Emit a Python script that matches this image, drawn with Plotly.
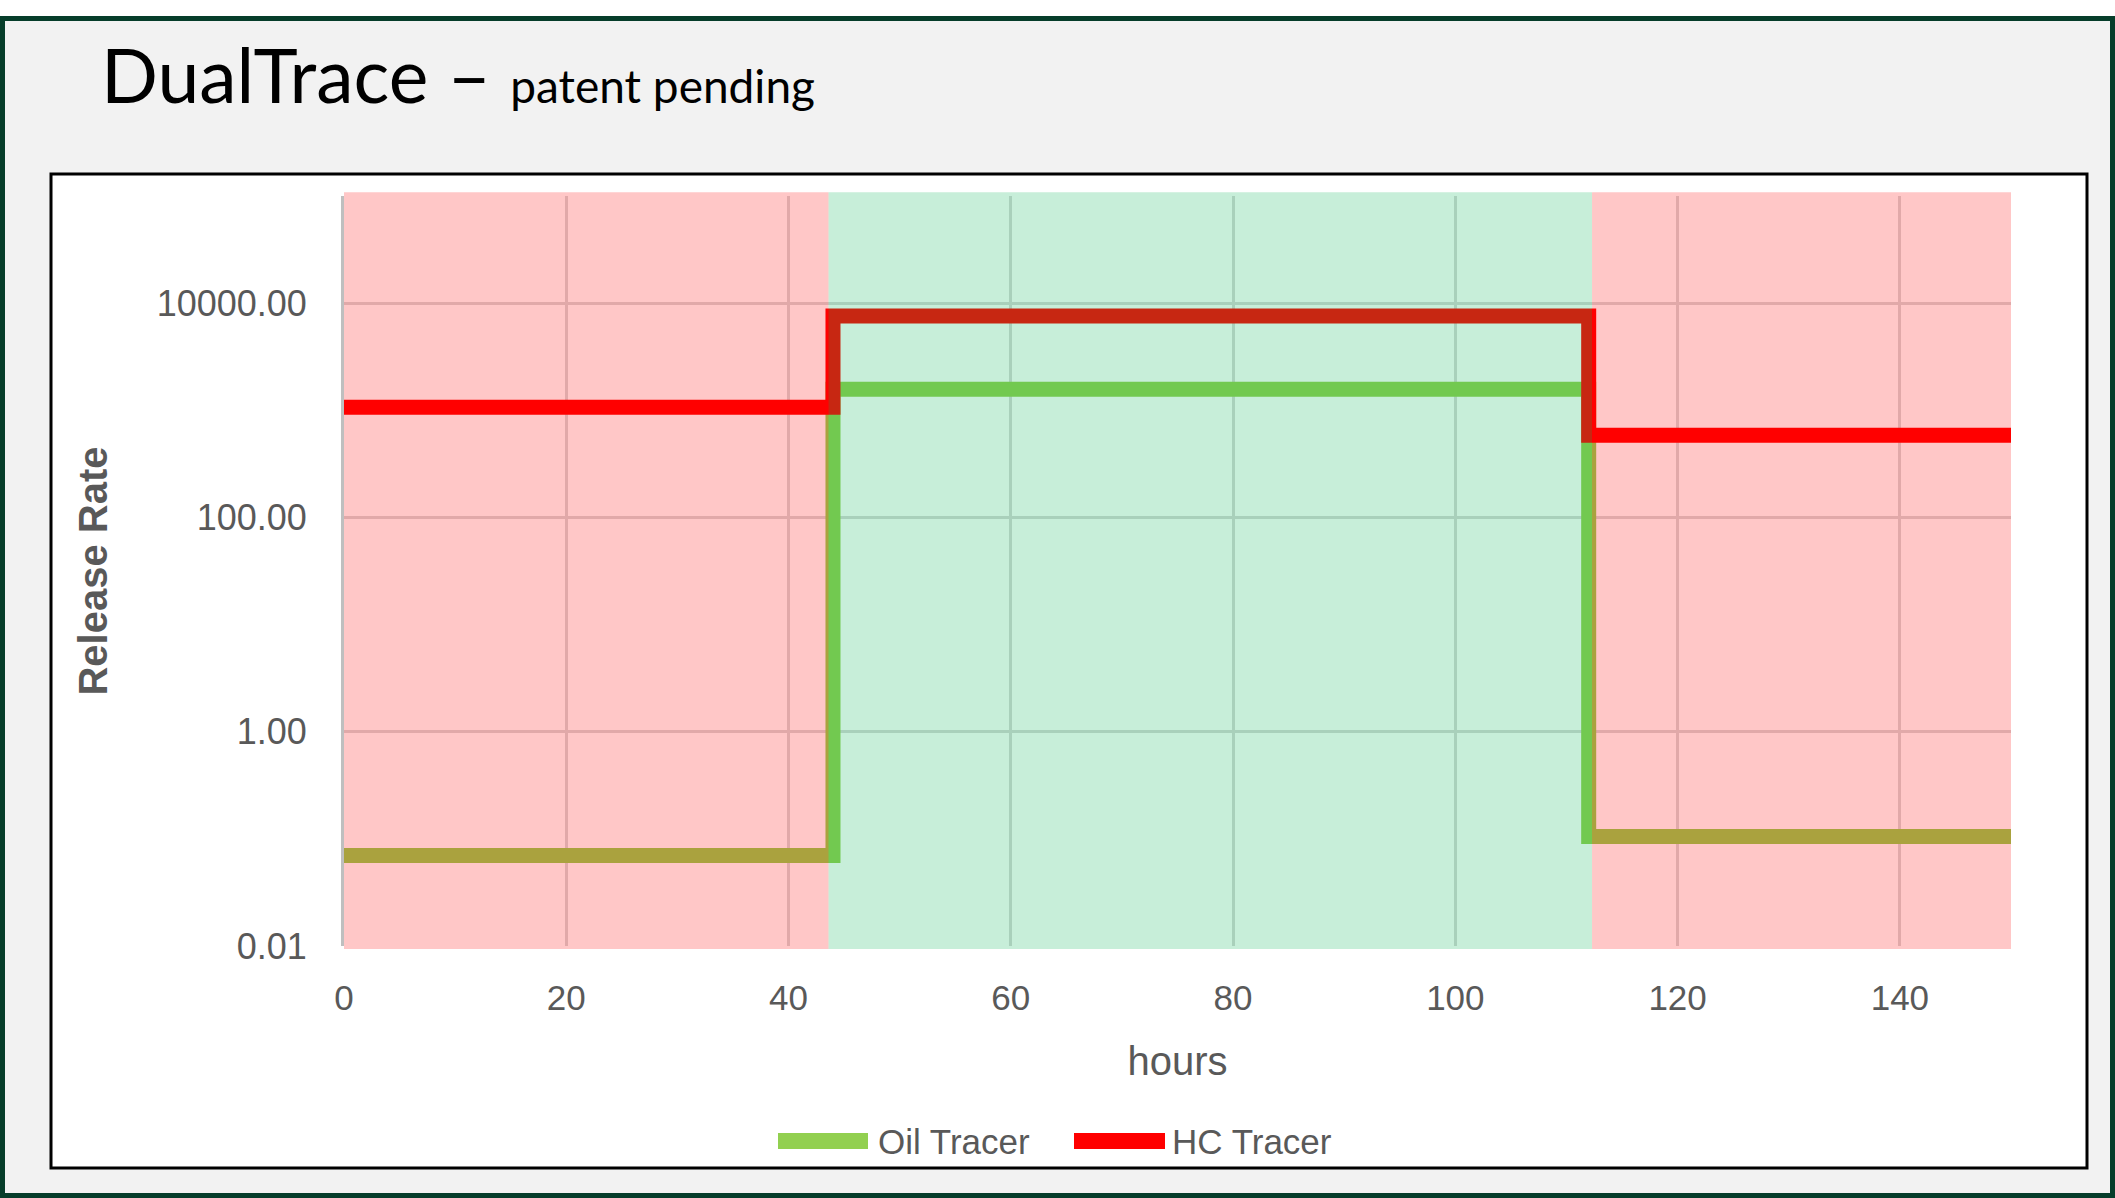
import plotly.graph_objects as go

# -----------------------
# Data
# -----------------------
hours_oil = [0, 44, 112, 150]
oil_rate = [0.07, 1570, 0.105, 0.105]

hours_hc = [0, 44, 112, 150]
hc_rate = [1070, 7600, 584, 584]

# shaded phases: start hour, end hour, colour
phase_start = [0, 43.6, 112.3]
phase_end = [43.6, 112.3, 151.5]
phase_color = ["rgba(255,0,0,0.22)", "rgba(0,176,80,0.22)", "rgba(255,0,0,0.22)"]

x_ticks = [0, 20, 40, 60, 80, 100, 120, 140]
y_ticks = [0.01, 1, 100, 10000]

OIL_COLOR = "#92D050"
HC_COLOR = "#FF0000"

# -----------------------
# Page geometry (pixels)
# -----------------------
W, H = 2115, 1198
PL, PR, PT, PB = 344, 2011, 196, 946


def px(x):
    return (x - PL) / (PR - PL)


def py(y):
    return (PB - y) / (PB - PT)


GREY = "#595959"
FONT = "Liberation Sans, Arial, sans-serif"

fig = go.Figure()

fig.add_trace(go.Scatter(
    x=hours_oil, y=oil_rate, name="Oil Tracer", mode="lines",
    line=dict(color=OIL_COLOR, width=15, shape="hv"),
))
fig.add_trace(go.Scatter(
    x=hours_hc, y=hc_rate, name="HC Tracer", mode="lines",
    line=dict(color=HC_COLOR, width=15, shape="hv"),
))

shapes = [
    # slide frame
    dict(type="rect", xref="paper", yref="paper", layer="below",
         x0=px(0), x1=px(W), y0=py(H), y1=py(16),
         fillcolor="#063D2A", line=dict(width=0)),
    dict(type="rect", xref="paper", yref="paper", layer="below",
         x0=px(5), x1=px(W - 5), y0=py(H - 5), y1=py(21),
         fillcolor="#F2F2F2", line=dict(width=0)),
    # chart box
    dict(type="rect", xref="paper", yref="paper", layer="below",
         x0=px(51), x1=px(2087), y0=py(1168), y1=py(174),
         fillcolor="white", line=dict(color="black", width=3)),
    # legend swatches (Excel style long bars)
    dict(type="line", xref="paper", yref="paper", layer="above",
         x0=px(778), x1=px(868), y0=py(1141), y1=py(1141),
         line=dict(color=OIL_COLOR, width=16)),
    dict(type="line", xref="paper", yref="paper", layer="above",
         x0=px(1074), x1=px(1165), y0=py(1141), y1=py(1141),
         line=dict(color=HC_COLOR, width=16)),
]

# phase shading sits on top of the lines, like in the original
for s, e, c in zip(phase_start, phase_end, phase_color):
    shapes.append(dict(type="rect", xref="x", yref="paper", layer="above",
                       x0=s, x1=e, y0=-0.004, y1=1.005,
                       fillcolor=c, line=dict(width=0)))

fig.update_layout(
    width=W, height=H,
    margin=dict(l=PL, r=W - PR, t=PT, b=H - PB),
    paper_bgcolor="white",
    plot_bgcolor="white",
    shapes=shapes,
    font=dict(family=FONT, color=GREY, size=35),
    showlegend=False,
    annotations=[
        dict(xref="paper", yref="paper", x=px(99), y=py(121),
             xanchor="left", yanchor="bottom", showarrow=False,
             text="DualTrace – <span style='font-size:46px'>patent pending</span>",
             font=dict(family="Lato, sans-serif", size=75, color="black")),
        dict(xref="paper", yref="paper", x=px(876), y=py(1141),
             xanchor="left", yanchor="middle", showarrow=False,
             text="Oil Tracer", font=dict(size=35, color=GREY)),
        dict(xref="paper", yref="paper", x=px(1170), y=py(1141),
             xanchor="left", yanchor="middle", showarrow=False,
             text="HC Tracer", font=dict(size=35, color=GREY)),
    ],
)

fig.update_xaxes(
    range=[0, 150], tickvals=x_ticks,
    showgrid=True, gridcolor="#D9D9D9", gridwidth=3, zeroline=False,
    ticks="", ticklabelstandoff=28,
    tickfont=dict(size=35, color=GREY),
    title=dict(text="hours", font=dict(size=40, color=GREY), standoff=30),
)
fig.update_yaxes(
    type="log", range=[-2, 5], tickvals=y_ticks, tickformat=".2f",
    showgrid=True, gridcolor="#D9D9D9", gridwidth=3, zeroline=False,
    showline=True, linecolor="#BFBFBF", linewidth=3,
    ticks="", ticklabelstandoff=27,
    tickfont=dict(size=36, color=GREY),
    title=dict(text="<b>Release Rate</b>", font=dict(size=40, color=GREY), standoff=37),
)

# drop the default page margin so the figure sits at the top-left corner
fig.write_html("out.html", config={"displayModeBar": False},
               post_script="document.body.style.margin='0px';")
